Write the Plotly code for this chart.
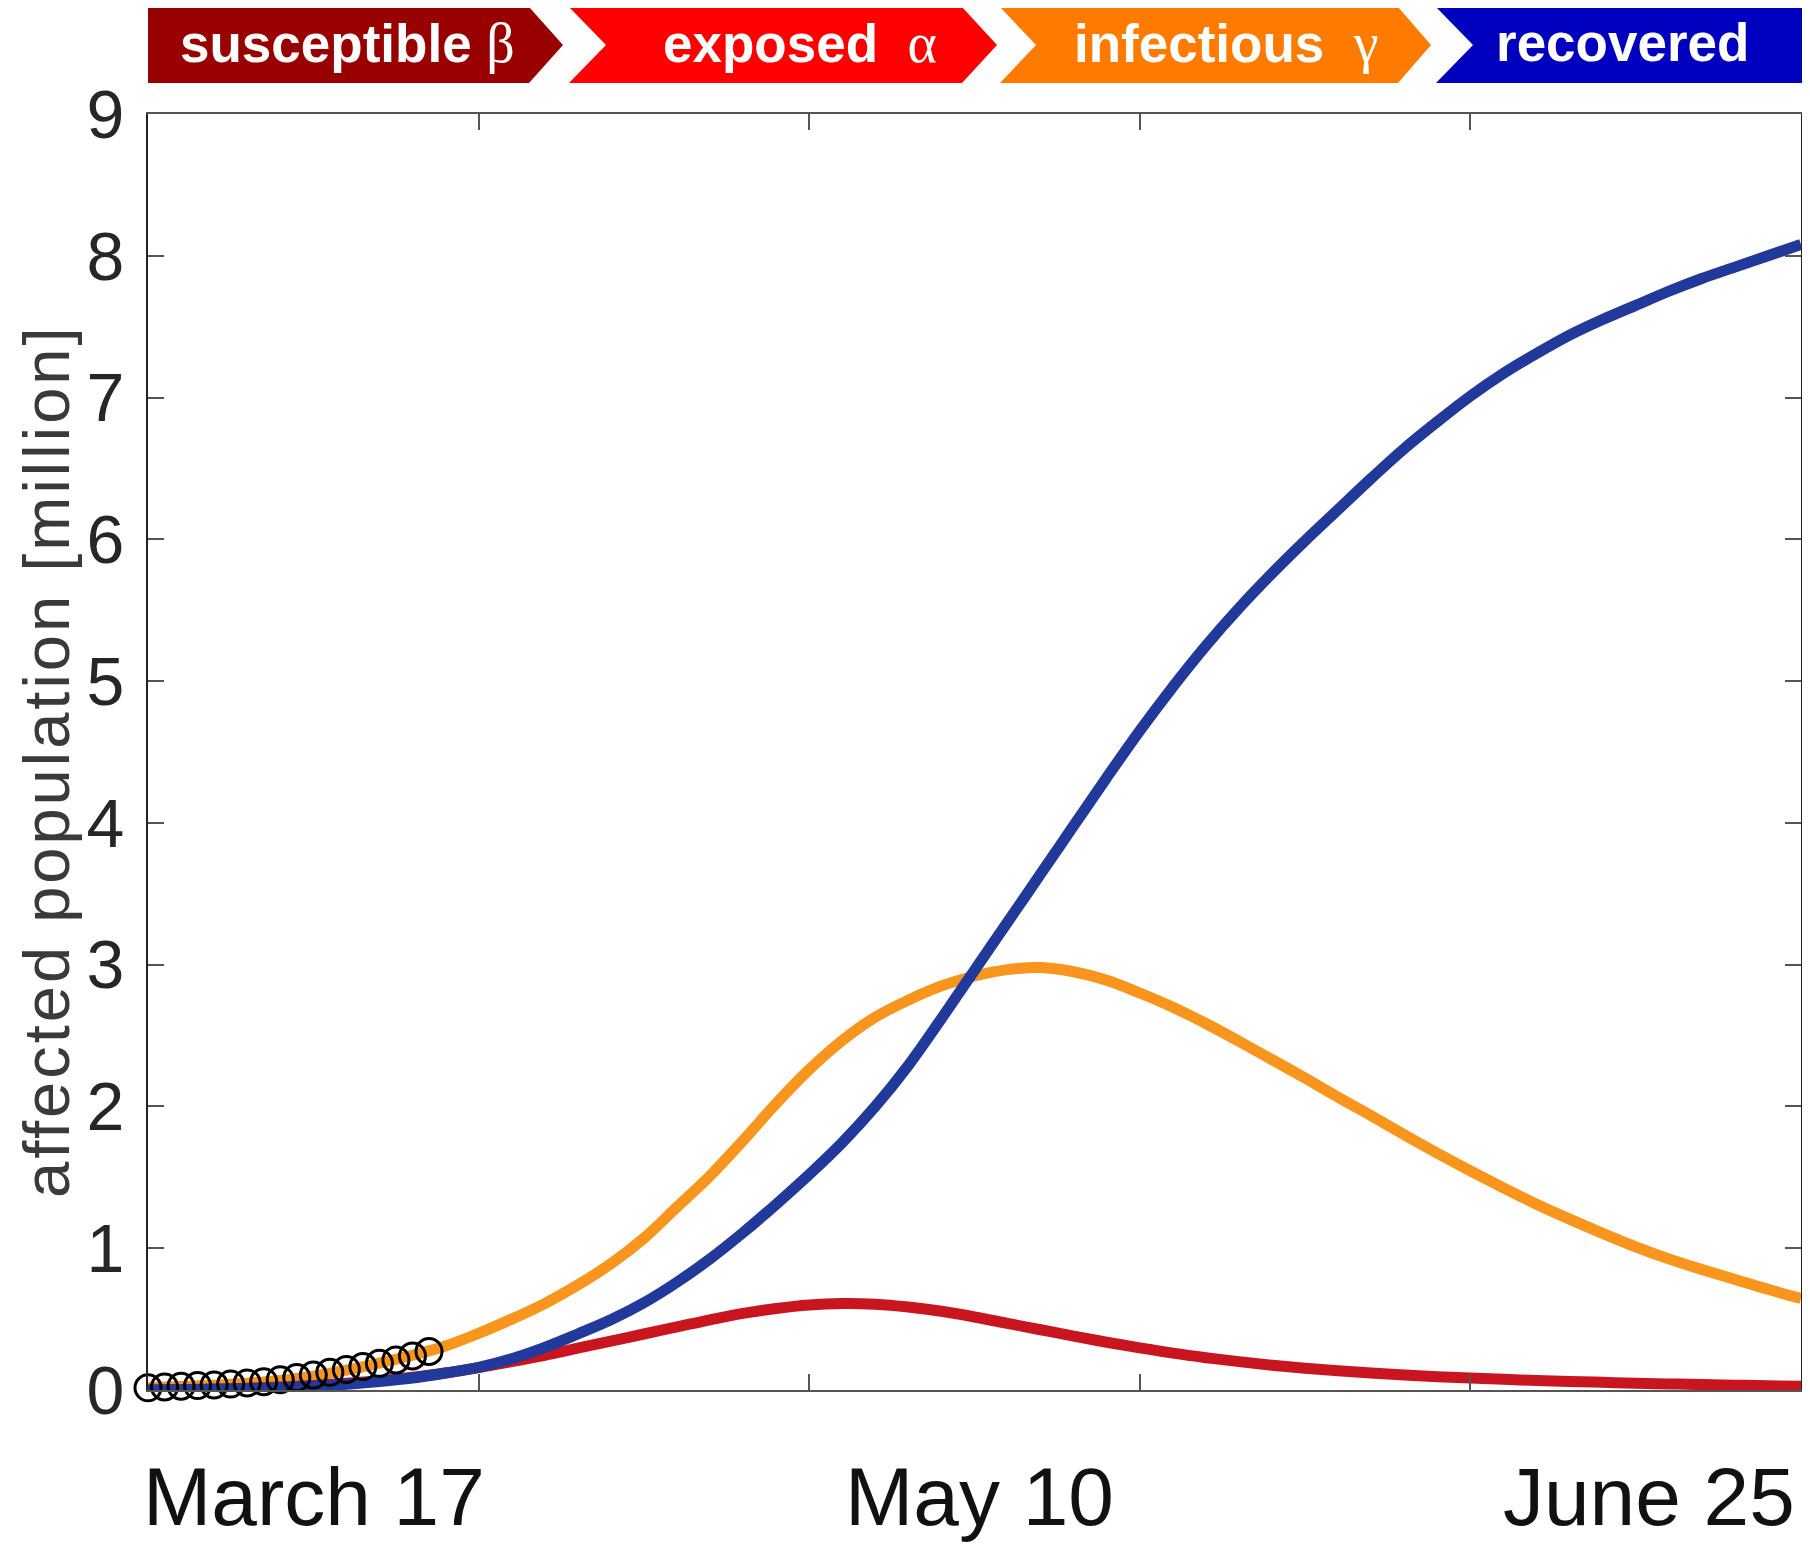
import plotly.graph_objects as go

# days since March 17
days = [0, 2, 4, 6, 8, 10, 12, 14, 16, 18, 20, 22, 24, 26, 28, 30, 32, 34, 36, 38, 40, 42, 44, 46, 48, 50,
        52, 54, 56, 58, 60, 62, 64, 66, 68, 70, 72, 74, 76, 78, 80, 82, 84, 86, 88, 90, 92, 94, 96, 98, 100]

# populations in million
infectious = [0.015, 0.025, 0.034, 0.048, 0.068, 0.098, 0.14, 0.19, 0.245, 0.31, 0.40, 0.50, 0.61, 0.74,
              0.89, 1.07, 1.29, 1.51, 1.76, 2.02, 2.26, 2.465, 2.63, 2.75, 2.85, 2.92, 2.965, 2.98, 2.95,
              2.89, 2.80, 2.70, 2.585, 2.46, 2.33, 2.20, 2.065, 1.935, 1.80, 1.67, 1.545, 1.425, 1.31, 1.205,
              1.105, 1.01, 0.925, 0.85, 0.78, 0.71, 0.645]
exposed = [0.0, 0.003, 0.007, 0.013, 0.021, 0.032, 0.047, 0.066, 0.09, 0.12, 0.158, 0.20, 0.245, 0.295,
           0.345, 0.395, 0.445, 0.495, 0.54, 0.575, 0.60, 0.61, 0.605, 0.585, 0.555, 0.515, 0.47, 0.425,
           0.38, 0.337, 0.297, 0.26, 0.228, 0.20, 0.175, 0.154, 0.136, 0.12, 0.106, 0.094, 0.084, 0.075,
           0.067, 0.06, 0.054, 0.048, 0.043, 0.038, 0.034, 0.03, 0.027]
recovered = [0.0, 0.002, 0.005, 0.009, 0.016, 0.026, 0.04, 0.06, 0.085, 0.12, 0.16, 0.22, 0.30, 0.395,
             0.495, 0.615, 0.76, 0.925, 1.11, 1.31, 1.52, 1.745, 2.0, 2.29, 2.62, 2.96, 3.30, 3.64, 3.98,
             4.32, 4.65, 4.96, 5.25, 5.515, 5.76, 5.99, 6.21, 6.43, 6.64, 6.83, 7.01, 7.17, 7.31, 7.44,
             7.55, 7.65, 7.75, 7.84, 7.92, 8.0, 8.08]

# reported cases (circles)
data_days = [0, 1, 2, 3, 4, 5, 6, 7, 8, 9, 10, 11, 12, 13, 14, 15, 16, 17]
data_vals = [0.015, 0.022, 0.027, 0.031, 0.036, 0.042, 0.05, 0.059, 0.073, 0.088, 0.105, 0.125,
             0.145, 0.165, 0.188, 0.212, 0.24, 0.272]

banner_labels = ['susceptible', 'exposed', 'infectious', 'recovered']
banner_greek = ['\u03b2', '\u03b1', '\u03b3', '']
banner_colors = ['#990000', '#ff0000', '#ff7b00', '#0000bf']

date_labels = ['March 17', 'May 10', 'June 25']
date_pos = [0, 50.3, 100]

y_ticks = [0, 1, 2, 3, 4, 5, 6, 7, 8, 9]

# the page puts the figure 8 px in from the top-left corner
OFF = 8
PAGE_W, PAGE_H = 1810, 1547
W, H = PAGE_W - OFF, PAGE_H - OFF
# plot area in page pixels
L, R, T, B = 148, 1801, 114, 1390


def px(x):
    return (x - L) / (R - L)


def py(y):
    return (B - y) / (B - T)


def path(points):
    s = 'M ' + ' L '.join(f'{px(x):.5f},{py(y):.5f}' for x, y in points)
    return s + ' Z'


fig = go.Figure()

line_w = 11
fig.add_trace(go.Scatter(x=days, y=infectious, mode='lines', name='infectious',
                         line=dict(color='#f7951c', width=line_w, shape='spline', smoothing=1.0)))
fig.add_trace(go.Scatter(x=days, y=exposed, mode='lines', name='exposed',
                         line=dict(color='#c9151f', width=line_w, shape='spline', smoothing=1.0)))
fig.add_trace(go.Scatter(x=days, y=recovered, mode='lines', name='recovered',
                         line=dict(color='#20399a', width=line_w, shape='spline', smoothing=1.0)))
fig.add_trace(go.Scatter(x=data_days, y=data_vals, mode='markers', name='data',
                         marker=dict(symbol='circle-open', size=26, color='black',
                                     line=dict(width=3, color='black')),
                         cliponaxis=False))

# chevron banner
top, mid, bot = 7, 45, 83
banner_geo = [
    [(148, top), (529, top), (563, mid), (529, bot), (148, bot)],
    [(569, top), (962, top), (997, mid), (962, bot), (569, bot), (606, mid)],
    [(1000, top), (1398, top), (1431, mid), (1398, bot), (1000, bot), (1036, mid)],
    [(1436, top), (1808, top), (1808, bot), (1436, bot), (1473, mid)],
]
shapes = []
for pts, col in zip(banner_geo, banner_colors):
    shapes.append(dict(type='path', xref='paper', yref='paper', path=path(pts),
                       fillcolor=col, line=dict(width=0)))

annotations = []
banner_cx = [347, 800, 1226, 1622]
for lab, gr, cx in zip(banner_labels, banner_greek, banner_cx):
    txt = f'<b>{lab}</b>'
    if gr:
        sep = ' ' if lab == 'susceptible' else '  '
        txt += sep + f"<span style='font-family:Liberation Serif;font-size:56px'>{gr}</span>"
    annotations.append(dict(x=px(cx), y=py(43), xref='paper', yref='paper', text=txt, showarrow=False,
                            font=dict(family='Liberation Sans', size=53, color='white'),
                            xanchor='center', yanchor='middle'))

# date labels under the axis
anchors = ['left', 'center', 'right']
shifts = [-7, 0, -4]
for lab, pos, anc, sh in zip(date_labels, date_pos, anchors, shifts):
    annotations.append(dict(x=pos, y=py(1496), xref='x', yref='paper', text=lab, showarrow=False,
                            xanchor=anc, yanchor='middle', xshift=sh,
                            font=dict(family='Liberation Sans', size=82, color='#111111')))

# y axis title
annotations.append(dict(x=px(46), y=py(761), xref='paper', yref='paper',
                        text="<span style='letter-spacing:3px'>affected population [million]</span>",
                        showarrow=False, textangle=-90, xanchor='center', yanchor='middle',
                        font=dict(family='Liberation Sans', size=65, color='#3a3a3a')))

fig.update_layout(
    width=W, height=H,
    margin=dict(l=L - OFF, r=W - (R - OFF), t=T - OFF, b=H - (B - OFF), autoexpand=False),
    paper_bgcolor='white',
    plot_bgcolor='white',
    showlegend=False,
    shapes=shapes,
    annotations=annotations,
)
fig.update_xaxes(range=[0, 100], tickvals=[20, 40, 60, 80], showticklabels=False,
                 ticks='inside', ticklen=16, tickcolor='#555555', tickwidth=2,
                 showline=True, linecolor='#555555', linewidth=2, mirror='ticks',
                 showgrid=False, zeroline=False)
fig.update_yaxes(range=[0, 9], tickvals=y_ticks, ticks='inside', ticklen=16, tickcolor='#555555', tickwidth=2,
                 showline=True, linecolor='#222222', linewidth=2, mirror='ticks',
                 showgrid=False, zeroline=False, ticklabelstandoff=8,
                 tickfont=dict(family='Liberation Sans', size=68, color='#262626'))

fig.write_html('out.html')
